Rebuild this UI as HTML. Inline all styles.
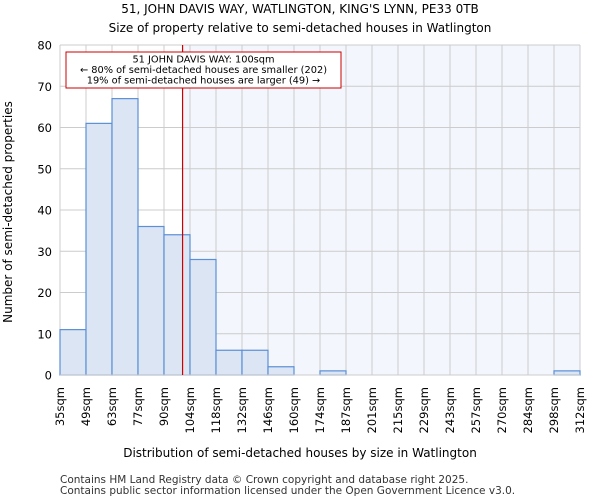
<!DOCTYPE html>
<html><head><meta charset="utf-8"><style>
body{margin:0;background:#fff;font-family:"DejaVu Sans","Liberation Sans",sans-serif;}
</style></head><body>
<svg id="chart" width="600" height="500" xmlns="http://www.w3.org/2000/svg" font-family="DejaVu Sans, Liberation Sans, sans-serif">
<text x="300" y="13" text-anchor="middle" font-size="12">51, JOHN DAVIS WAY, WATLINGTON, KING'S LYNN, PE33 0TB</text>
<text x="300" y="32" text-anchor="middle" font-size="12">Size of property relative to semi-detached houses in Watlington</text>
<g id="plot"></g>
<text x="300" y="457" text-anchor="middle" font-size="12">Distribution of semi-detached houses by size in Watlington</text>
<text transform="translate(12,212) rotate(-90)" text-anchor="middle" font-size="12">Number of semi-detached properties</text>
<text x="60" y="483" font-size="10.5" fill="#333">Contains HM Land Registry data © Crown copyright and database right 2025.</text>
<text x="60" y="494" font-size="10.5" fill="#333">Contains public sector information licensed under the Open Government Licence v3.0.</text>
</svg>
<script>
const binLabels=["35sqm","49sqm","63sqm","77sqm","90sqm","104sqm","118sqm","132sqm","146sqm","160sqm","174sqm","187sqm","201sqm","215sqm","229sqm","243sqm","257sqm","270sqm","284sqm","298sqm","312sqm"];
const counts=[11,61,67,36,34,28,6,6,2,0,1,0,0,0,0,0,0,0,0,1];
const yTicks=[0,10,20,30,40,50,60,70,80];
const propertySize=100;
const binEdges=[35,49,63,77,90,104,118,132,146,160,174,187,201,215,229,243,257,270,284,298,312];
const L=60,R=580,T=45,B=375,yMax=80;
const NS="http://www.w3.org/2000/svg";
const g=document.getElementById('plot');
const nb=counts.length, bw=(R-L)/nb;
const xi=i=>L+i*bw;
const y=v=>B-(v/yMax)*(B-T);
function xv(v){for(let i=0;i<binEdges.length-1;i++){if(v<=binEdges[i+1])return xi(i)+bw*(v-binEdges[i])/(binEdges[i+1]-binEdges[i]);}return R;}
function mk(t,a){const e=document.createElementNS(NS,t);for(const k in a)e.setAttribute(k,a[k]);g.appendChild(e);return e;}
const px=xv(propertySize);
let e=mk('rect',{x:px,y:T,width:R-px,height:B-T,fill:'#f3f6fd'});


yTicks.forEach(t=>{
 let l=mk('line',{x1:L,x2:R,y1:y(t),y2:y(t),stroke:'#cccccc','stroke-width':1});
 
 
 let tx=mk('text',{x:L-8,y:y(t)+4.5,'text-anchor':'end','font-size':11.5});
 tx.textContent=t;
 
 
});
binLabels.forEach((s,i)=>{
 let l=mk('line',{x1:xi(i),x2:xi(i),y1:T,y2:B,stroke:'#cccccc','stroke-width':1});
 
 
 let tx=mk('text',{transform:`translate(${xi(i)+4},${B+12}) rotate(-90)`,'text-anchor':'end','font-size':11.5});
 tx.textContent=s;
 
 
});
counts.forEach((c,i)=>{
 if(c<=0)return;
 let r=mk('rect',{x:xi(i),y:y(c),width:bw,height:B-y(c),fill:'#dce5f4',stroke:'#5b8fd6','stroke-width':1.2});
 
 
});
let ax=mk('line',{x1:L,x2:R,y1:B,y2:B,stroke:'#ccc'});


let rl=mk('line',{x1:px,x2:px,y1:T,y2:B,stroke:'#cc0000','stroke-width':1.2});


let box=mk('rect',{x:66,y:52,width:275,height:36,fill:'#fff',stroke:'#cc0000','stroke-width':1});


["51 JOHN DAVIS WAY: 100sqm","← 80% of semi-detached houses are smaller (202)","19% of semi-detached houses are larger (49) →"].forEach((s,i)=>{
 let t=mk('text',{x:203.5,y:62.5+i*10.5,'text-anchor':'middle','font-size':9.8});
 t.textContent=s;
 
 
});
</script>
</body></html>
